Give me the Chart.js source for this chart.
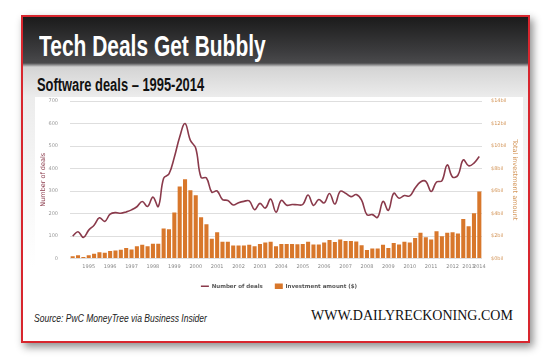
<!DOCTYPE html>
<html>
<head>
<meta charset="utf-8">
<script src="https://cdn.jsdelivr.net/npm/chart.js@4.4.1/dist/chart.umd.min.js"></script>
<style>
  body { margin: 0; background: #fff; width: 550px; height: 359px; position: relative; overflow: hidden; }
  #frame { position: absolute; left: 21px; top: 15px; width: 505px; height: 324px; border: 2px solid #d8262e;
           box-shadow: 3px 4px 8px rgba(0,0,0,0.45);
           background: linear-gradient(to bottom, #1b1b1b 0px, #3c3c3e 34px, #4a4a4c 46px, #d4d4d4 50px, #ececec 80px, #f6f6f6 160px, #fff 250px); }
  .txt { position: absolute; white-space: nowrap; transform-origin: 0 0; }
  #title { left: 39px; top: 31px; font: bold 30px/30px "Liberation Sans", sans-serif; color: #fff; }
  #subtitle { left: 37px; top: 76px; font: bold 18px/18px "Liberation Sans", sans-serif; color: #111; }
  #source { left: 34px; top: 313px; font: italic 11px/11px "Liberation Sans", sans-serif; color: #222; }
  #site { left: 311px; top: 309px; font: 14px/14px "Liberation Serif", serif; color: #111; }
  #box { position: absolute; left: 35px; top: 97px; width: 488px; height: 202px; background: #fff; }
  canvas { position: absolute; left: 0; top: 0; }
</style>
</head>
<body>
<div id="frame"></div>
<div class="txt" id="title">Tech Deals Get Bubbly</div>
<div class="txt" id="subtitle">Software deals – 1995-2014</div>
<div id="box"><canvas id="chart" width="488" height="202"></canvas></div>
<div class="txt" id="source">Source: PwC MoneyTree via Business Insider</div>
<div class="txt" id="site">WWW.DAILYRECKONING.COM</div>
<script>
const years = ['1995','1996','1997','1998','1999','2000','2001','2002','2003','2004',
               '2005','2006','2007','2008','2009','2010','2011','2012','2013','2014'];
const quarters = ['Q1','Q2','Q3','Q4'];

// quarterly number of deals, 1995 Q1 - 2014 Q1
const deals = [100,119,94,126, 148,181,165,197, 204,201,207,216, 230,253,231,273,
               231,357,376,450, 540,600,525,490, 360,358,295,300, 262,258,238,248,
               254,256,217,245, 224,264,206,258, 237,240,239,240, 282,236,262,247,
               289,242,299,290, 275,284,259,194, 195,183,254,214, 290,268,280,278,
               313,340,343,298, 340,345,416,362, 370,438,412,424, 453];

// quarterly investment amount, $ billions
const invest = [0.2,0.3,0.14,0.3, 0.42,0.56,0.52,0.66, 0.72,0.78,0.94,0.8, 1.08,1.22,1.08,1.32,
                1.32,2.66,2.6,4.1, 6.4,7.04,6.06,5.62, 3.66,3.04,1.76,2.34, 1.5,1.5,1.16,1.16,
                1.16,1.22,1.1,1.28, 1.42,1.5,1.1,1.3, 1.3,1.3,1.26,1.3, 1.5,1.24,1.24,1.42,
                1.64,1.46,1.7,1.56, 1.56,1.52,1.18,0.76, 0.88,0.88,1.22,0.94, 1.38,1.24,1.5,1.42,
                1.82,2.28,1.88,1.68, 2.42,1.98,2.28,2.34, 2.22,3.52,2.86,4.02, 5.96];

// which quarter carries the year label (Q4 unless listed)
const yearTickLabels = { '2013': 'Q3', '2014': 'Q1' };

const labels = [];
years.forEach(y => quarters.forEach(q => { if (labels.length < deals.length) labels.push(y + ' ' + q); }));

const font = 'DejaVu Sans';

new Chart(document.getElementById('chart'), {
  data: {
    labels: labels,
    datasets: [
      {
        type: 'line', label: 'Number of deals', data: deals, yAxisID: 'y',
        borderColor: '#8a3a4b', borderWidth: 1.6, pointRadius: 0, tension: 0.4,
        pointStyle: 'line', fill: false
      },
      {
        type: 'bar', label: 'Investment amount ($)', data: invest, yAxisID: 'y1',
        backgroundColor: '#d8772b', barPercentage: 0.76, categoryPercentage: 1,
        pointStyle: 'rect'
      }
    ]
  },
  options: {
    responsive: false,
    animation: false,
    devicePixelRatio: 1,
    layout: { padding: { top: 4, bottom: 0, left: 0, right: 0 } },
    plugins: {
      tooltip: { enabled: false },
      legend: {
        position: 'bottom',
        labels: {
          usePointStyle: true, boxHeight: 7, pointStyleWidth: 8, padding: 12, color: '#555',
          font: { family: font, size: 5.5, weight: 'bold' }
        }
      }
    },
    scales: {
      x: {
        grid: { display: false, drawTicks: false }, border: { display: false },
        afterFit: s => { s.height = 13; },
        ticks: {
          autoSkip: false, maxRotation: 0, padding: 5.5, color: '#888',
          font: { family: font, size: 5 },
          callback: function (v) {
            const [y, q] = labels[v].split(' ');
            const want = yearTickLabels[y] || 'Q4';
            return q === want ? y : '';
          }
        }
      },
      y: {
        position: 'left', min: 0, max: 700,
        afterFit: s => { s.width = 35; },
        grid: { color: '#dedede', lineWidth: 1, drawTicks: true, tickLength: 12, tickColor: 'transparent' },
        border: { display: false },
        ticks: { stepSize: 100, padding: 0, color: '#999', font: { family: font, size: 5 } },
        title: { display: true, text: 'Number of deals', color: '#8a3a4b', font: { family: font, size: 6.5 } }
      },
      y1: {
        position: 'right', min: 0, max: 14,
        afterFit: s => { s.width = 41; },
        grid: { drawOnChartArea: false, drawTicks: true, tickLength: 9, tickColor: 'transparent' },
        border: { display: false },
        ticks: { stepSize: 2, padding: 0, color: '#d39558', font: { family: font, size: 5 },
                 callback: v => '$' + v + 'bil' },
        title: { display: true, text: 'Total investment amount', color: '#d39558', font: { family: font, size: 6.5 } }
      }
    }
  }
});

// squeeze the condensed headings to the reference widths
function fit(id, w) {
  const el = document.getElementById(id);
  el.style.transform = 'scaleX(' + (w / el.offsetWidth) + ')';
}
fit('title', 227);
fit('subtitle', 167);
fit('source', 173);
</script>
</body>
</html>
